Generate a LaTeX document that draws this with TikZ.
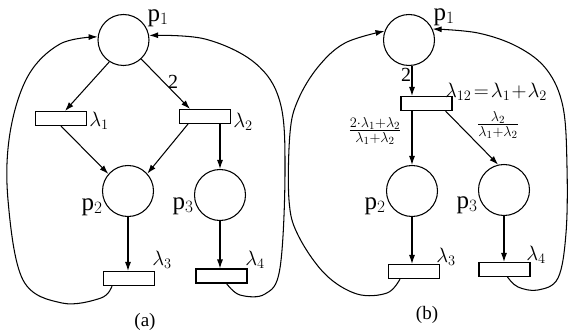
\documentclass[tikz,border=0pt]{standalone}
\usepackage{fontspec}
\setmainfont{Liberation Serif}
\usetikzlibrary{arrows.meta,calc}
\begin{document}
\begin{tikzpicture}[x=1pt,y=-1pt,line width=1.05pt,
  place/.style={circle,draw,minimum size=51pt,inner sep=0pt},
  trans/.style={rectangle,draw,minimum width=51pt,minimum height=14pt,inner sep=0pt},
  arc/.style={-{Latex[length=9pt,width=6pt]}},
  plbl/.style={inner sep=0pt,font=\fontsize{25}{27}\selectfont},
  llbl/.style={inner sep=0pt,font=\fontsize{21}{24}\selectfont},
  nlbl/.style={inner sep=0pt,font=\fontsize{20}{22}\selectfont},
  flbl/.style={inner sep=0pt,font=\fontsize{21}{24}\selectfont},
  caplbl/.style={inner sep=0pt,font=\fontsize{19}{21}\selectfont}]
\useasboundingbox (0,0) rectangle (570,331);

% ---------- (a) ----------
\node[place] (p1a) at (123.5,40) {};
\node[trans] (t1a) at (61,118.5) {};
\node[trans] (t2a) at (205,116.5) {};
\node[place] (p2a) at (128,191) {};
\node[place] (p3a) at (220,195) {};
\node[trans] (t3a) at (129,278.5) {};
\node[trans] (t4a) at (221.5,276) {};

\node[plbl] (lp1a) at (158,18) {p$_1$};
\node[llbl] (lt1a) at (99,121) {$\lambda_1$};
\node[llbl] (lt2a) at (243,122) {$\lambda_2$};
\node[nlbl] (n2a) at (173,82) {2};
\node[plbl] (lp2a) at (92,207) {p$_2$};
\node[plbl] (lp3a) at (183,206) {p$_3$};
\node[llbl] (lt3a) at (162,260) {$\lambda_3$};
\node[llbl] (lt4a) at (255,260) {$\lambda_4$};
\node[caplbl] (capa) at (145,322) {(a)};

\draw[arc] (p1a.237) -- ($(t1a.north)+(4,0)$);
\draw[arc] (p1a.-47) -- ($(t2a.north)+(-15,0)$);
\draw[arc] (t1a.south) -- (p2a.139);
\draw[arc] ($(t2a.south)+(-17,0)$) -- (p2a.42);
\draw[arc] (t2a.south -| p3a) -- (p3a.north);
\draw[arc] (p2a.south) -- (p2a.south |- t3a.north);
\draw[arc] (p3a.south) -- (p3a.south |- t4a.north);

\coordinate (fa1) at ($(t3a.south)+(-17,0)$);
\coordinate (fa2) at ($(t4a.south)+(5,0)$);
\draw[arc] plot[smooth,tension=0.6] coordinates {(fa1) (101,298) (62,303) (23,280) (8,200) (10,133) (28,76) (60,44) (p1a.173)};
\draw[arc] plot[smooth,tension=0.6] coordinates {(fa2) (240,295) (265,294) (280,268) (285,170) (280,102) (255,63) (205,39) (p1a.10)};

% ---------- (b) ----------
\node[place] (p1b) at (409,40) {};
\node[trans] (t12) at (426.5,103.5) {};
\node[place] (p2b) at (412,191) {};
\node[place] (p3b) at (504,190) {};
\node[trans] (t3b) at (414,271.5) {};
\node[trans] (t4b) at (504.5,269.5) {};

\node[plbl] (lp1b) at (444,17) {p$_1$};
\node[nlbl] (n2b) at (406,75) {2};
\node[llbl] (lt12) at (496,92) {$\lambda_{12}\!=\!\lambda_1\!+\!\lambda_2$};
\node[flbl] (f1) at (375,131) {$\frac{2\cdot\lambda_1+\lambda_2}{\lambda_1+\lambda_2}$};
\node[flbl] (f2) at (498,125) {$\frac{\lambda_2}{\lambda_1+\lambda_2}$};
\node[plbl] (lp2b) at (375,206) {p$_2$};
\node[plbl] (lp3b) at (467,205) {p$_3$};
\node[llbl] (lt3b) at (446,257) {$\lambda_3$};
\node[llbl] (lt4b) at (536,255) {$\lambda_4$};
\node[caplbl] (capb) at (427,315) {(b)};

\draw[arc] (p2b |- p1b.south) -- (p2b |- t12.north);
\draw[arc] (t12.south -| p2b) -- (p2b.north);
\draw[arc] ($(t12.south east)+(-7,0)$) -- (p3b.103);
\draw[arc] (p2b.south) -- (p2b.south |- t3b.north);
\draw[arc] (p3b.south) -- (p3b.south |- t4b.north);

\coordinate (fb1) at ($(t3b.south)+(-14,0)$);
\coordinate (fb2) at ($(t4b.south)+(3,0)$);
\draw[arc] plot[smooth,tension=0.6] coordinates {(fb1) (387,293) (357,294) (325,274) (298,235) (289,200) (290,133) (298,100) (318,67) (345,43) (p1b.160)};
\draw[arc] plot[smooth,tension=0.6] coordinates {(fb2) (518,287) (538,290) (558,278) (566,233) (567,167) (563,107) (547,70) (518,47) (478,33) (p1b.25)};
\end{tikzpicture}
\end{document}
